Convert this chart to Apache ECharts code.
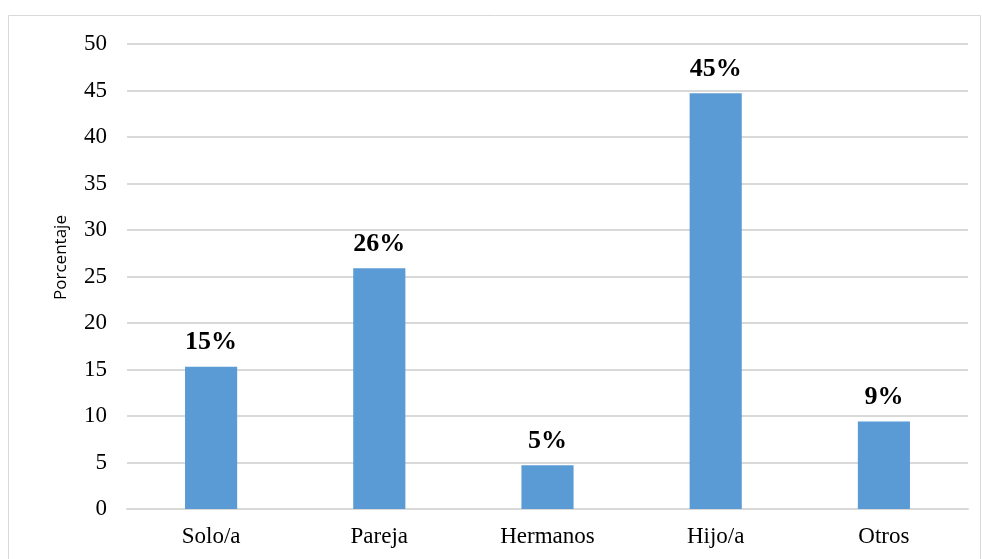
<!DOCTYPE html>
<html><head><meta charset="utf-8">
<script src="https://cdn.jsdelivr.net/npm/echarts@6/dist/echarts.min.js"></script>
<style>html,body{margin:0;padding:0;background:#fff}#c{width:982px;height:559px}</style>
</head><body><div id="c"></div>
<script>
const categories = ['Solo/a','Pareja','Hermanos','Hijo/a','Otros'];
const values = [15.3, 25.9, 4.7, 44.7, 9.4];
const yTicks = [0,5,10,15,20,25,30,35,40,45,50];
const yTitle = 'Porcentaje';

const chart = echarts.init(document.getElementById('c'));
chart.setOption({
  animation:false,
  graphic:[
    {type:'rect',shape:{x:8.5,y:15.5,width:972,height:560},style:{fill:'none',stroke:'#d9d9d9',lineWidth:1}}
  ],
  grid:{left:127,right:14,top:44,bottom:50},
  xAxis:{type:'category',data:categories,
    axisLine:{lineStyle:{color:'#d9d9d9',width:2}},axisTick:{show:false},
    axisLabel:{fontFamily:'Liberation Serif',fontSize:23,color:'#000',margin:16}},
  yAxis:{type:'value',min:0,max:50,interval:5,
    name:yTitle,nameLocation:'middle',nameGap:57,nameRotate:90,
    nameTextStyle:{fontFamily:'Open Sans',fontSize:17,color:'#000',padding:[0,0,0,38]},
    axisLine:{show:false},axisTick:{show:false},
    splitLine:{lineStyle:{color:'#d9d9d9',width:2}},
    axisLabel:{fontFamily:'Liberation Serif',fontSize:23,color:'#000',margin:20,
      formatter:v=>yTicks.includes(v)?String(v):''}},
  series:[{type:'bar',data:values,barWidth:'31%',
    itemStyle:{color:'#5B9BD5'},
    label:{show:true,position:'top',distance:11,fontFamily:'Liberation Serif',fontSize:26,fontWeight:'bold',color:'#000',
      formatter:p=>Math.round(p.value)+'%'}}]
});
</script></body></html>
